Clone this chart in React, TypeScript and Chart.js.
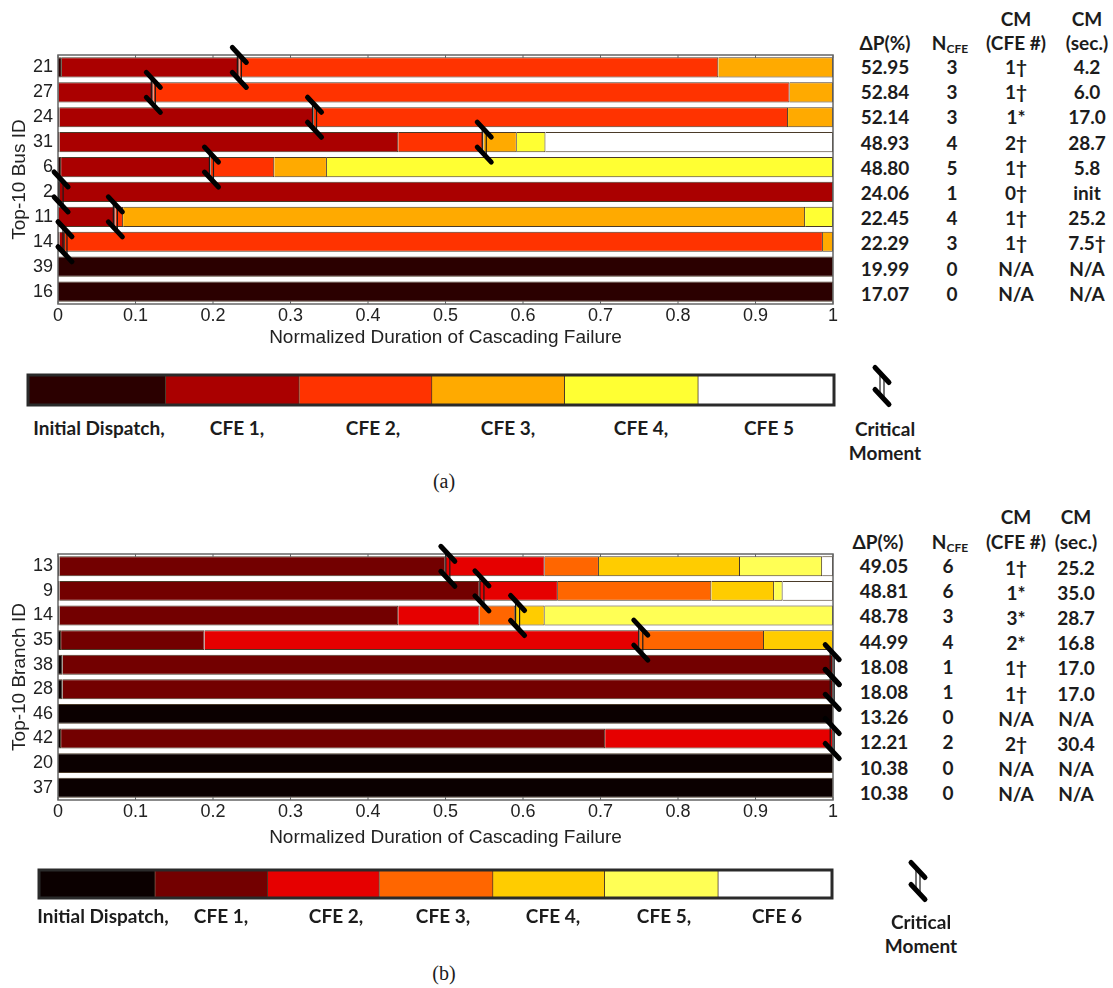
import React, { useEffect, useRef } from "react";
import { Chart, registerables } from "chart.js";

Chart.register(...registerables);

const busIds = ["21", "27", "24", "31", "6", "2", "11", "14", "39", "16"];
const busInit = [0.005, 0.001, 0.002, 0.002, 0.004, 0.002, 0.001, 0.002, 1, 1];
const busCfe1 = [0.229, 0.122, 0.328, 0.437, 0.193, 0.998, 0.073, 0.007, 0, 0];
const busCfe2 = [0.618, 0.821, 0.612, 0.11, 0.082, 0, 0.01, 0.978, 0, 0];
const busCfe3 = [0.148, 0.056, 0.058, 0.043, 0.068, 0, 0.88, 0.013, 0, 0];
const busCfe4 = [0, 0, 0, 0.037, 0.653, 0, 0.036, 0, 0, 0];
const busCfe5 = [0, 0, 0, 0.371, 0, 0, 0, 0, 0, 0];
const busCritical = [0.234, 0.123, 0.331, 0.55, 0.198, 0.004, 0.074, 0.009, null, null];
const busDeltaP = ["52.95", "52.84", "52.14", "48.93", "48.80", "24.06", "22.45", "22.29", "19.99", "17.07"];
const busNcfe = ["3", "3", "3", "4", "5", "1", "4", "3", "0", "0"];
const busCmCfe = ["1†", "1†", "1*", "2†", "1†", "0†", "1†", "1†", "N/A", "N/A"];
const busCmSec = ["4.2", "6.0", "17.0", "28.7", "5.8", "init", "25.2", "7.5†", "N/A", "N/A"];
const busColors = ["#2b0000", "#aa0000", "#ff3300", "#ffaa00", "#ffff33", "#ffffff"];
const busLegendLabels = ["Initial Dispatch,", "CFE 1,", "CFE 2,", "CFE 3,", "CFE 4,", "CFE 5"];
const busLegendWeights = [138, 134, 133, 133, 134, 136];

const branchIds = ["13", "9", "14", "35", "38", "28", "46", "42", "20", "37"];
const branchInit = [0.002, 0.002, 0.002, 0.004, 0.006, 0.006, 1, 0.004, 1, 1];
const branchCfe1 = [0.498, 0.542, 0.437, 0.185, 0.994, 0.994, 0, 0.702, 0, 0];
const branchCfe2 = [0.128, 0.101, 0.105, 0.561, 0, 0, 0, 0.294, 0, 0];
const branchCfe3 = [0.07, 0.198, 0.046, 0.161, 0, 0, 0, 0, 0, 0];
const branchCfe4 = [0.182, 0.081, 0.038, 0.089, 0, 0, 0, 0, 0, 0];
const branchCfe5 = [0.106, 0.011, 0.372, 0, 0, 0, 0, 0, 0, 0];
const branchCfe6 = [0.014, 0.065, 0, 0, 0, 0, 0, 0, 0, 0];
const branchCritical = [0.503, 0.547, 0.593, 0.752, 0.999, 0.999, null, 0.999, null, null];
const branchDeltaP = ["49.05", "48.81", "48.78", "44.99", "18.08", "18.08", "13.26", "12.21", "10.38", "10.38"];
const branchNcfe = ["6", "6", "3", "4", "1", "1", "0", "2", "0", "0"];
const branchCmCfe = ["1†", "1*", "3*", "2*", "1†", "1†", "N/A", "2†", "N/A", "N/A"];
const branchCmSec = ["25.2", "35.0", "28.7", "16.8", "17.0", "17.0", "N/A", "30.4", "N/A", "N/A"];
const branchColors = ["#0b0000", "#730000", "#e60000", "#ff6600", "#ffcc00", "#ffff55", "#ffffff"];
const branchLegendLabels = ["Initial Dispatch,", "CFE 1,", "CFE 2,", "CFE 3,", "CFE 4,", "CFE 5,", "CFE 6"];
const branchLegendWeights = [116, 112.5, 111.5, 113.5, 111.5, 113.5, 113.5];

const xTitle = "Normalized Duration of Cascading Failure";
const SANS = '"Liberation Sans", Arial, sans-serif';
const BOLD = 'Lato, "Noto Sans", sans-serif';

function drawMarker(ctx: CanvasRenderingContext2D, cx: number, topY: number, bottomY: number) {
  ctx.save();
  ctx.strokeStyle = "#1a1a1a";
  ctx.lineWidth = 1.2;
  for (const dx of [-2, 2]) {
    ctx.beginPath();
    ctx.moveTo(cx + dx, topY);
    ctx.lineTo(cx + dx, bottomY);
    ctx.stroke();
  }
  ctx.strokeStyle = "#000";
  ctx.lineWidth = 5;
  ctx.lineCap = "round";
  for (const y of [topY, bottomY]) {
    ctx.beginPath();
    ctx.moveTo(cx - 7, y - 7.5);
    ctx.lineTo(cx + 7, y + 7.5);
    ctx.stroke();
  }
  ctx.restore();
}

function PanelChart(props: {
  top: number; height: number; plotTop: number; plotBottom: number;
  ids: string[]; series: number[][]; colors: string[]; critical: (number | null)[]; yTitle: string;
}) {
  const { top, height, plotTop, plotBottom, ids, series, colors, critical, yTitle } = props;
  const ref = useRef<HTMLCanvasElement>(null);
  useEffect(() => {
    const frame = {
      id: "frame",
      afterDatasetsDraw(chart: any) {
        const { ctx, chartArea: a, scales } = chart;
        ctx.save();
        ctx.strokeStyle = "#666";
        ctx.lineWidth = 1.5;
        ctx.strokeRect(a.left, a.top, a.right - a.left, a.bottom - a.top);
        ctx.lineWidth = 1;
        for (const t of scales.x.ticks) {
          const x = scales.x.getPixelForValue(t.value);
          ctx.beginPath();
          ctx.moveTo(x, a.top);
          ctx.lineTo(x, a.top + 3);
          ctx.moveTo(x, a.bottom);
          ctx.lineTo(x, a.bottom - 3);
          ctx.stroke();
        }
        ctx.restore();
        critical.forEach((v, i) => {
          if (v === null) return;
          const cy = scales.y.getPixelForValue(i);
          drawMarker(ctx, scales.x.getPixelForValue(v), cy - 12.5, cy + 12.5);
        });
      },
    };
    const chart = new Chart(ref.current!, {
      type: "bar",
      data: {
        labels: ids,
        datasets: series.map((data, i) => ({
          label: i === 0 ? "Initial Dispatch" : `CFE ${i}`,
          data: data.map((v) => (v === 0 ? null : v)),
          backgroundColor: colors[i],
          borderColor: "#4a3a28",
          borderWidth: 1,
          barPercentage: 0.81,
          categoryPercentage: 1,
        })),
      },
      options: {
        indexAxis: "y",
        responsive: false,
        animation: false,
        layout: { padding: { top: plotTop - top, right: 17, left: 0, bottom: 0 } },
        plugins: { legend: { display: false }, tooltip: { enabled: false } },
        scales: {
          x: {
            type: "linear", stacked: true, min: 0, max: 1,
            grid: { display: false, drawTicks: false }, border: { display: false },
            ticks: {
              stepSize: 0.1, color: "#222", maxRotation: 0, padding: 1,
              font: { family: SANS, size: 18 },
              callback: (v: any) => String(Math.round(Number(v) * 10) / 10),
            },
            title: { display: true, text: xTitle, color: "#222", padding: { top: -2, bottom: 1 }, font: { family: SANS, size: 19 } },
            afterFit: (s: any) => { s.height = top + height - plotBottom; },
          },
          y: {
            type: "category", stacked: true,
            grid: { display: false, drawTicks: false }, border: { display: false },
            ticks: { color: "#222", padding: 5, autoSkip: false, font: { family: SANS, size: 18 } },
            title: { display: true, text: yTitle, color: "#222", padding: { top: 8, bottom: 0 }, font: { family: SANS, size: 19 } },
            afterFit: (s: any) => { s.width = 58; },
          },
        },
      },
      plugins: [frame],
    } as any);
    return () => chart.destroy();
  }, []);
  return <canvas ref={ref} width={850} height={height} style={{ position: "absolute", left: 0, top }} />;
}

function LegendBar(props: {
  top: number; height: number; left: number; right: number; barTop: number; barBottom: number;
  weights: number[]; colors: string[]; labels: string[]; markerX: number; markerTop: number; markerBottom: number;
}) {
  const { top, height, left, right, barTop, barBottom, weights, colors, labels, markerX, markerTop, markerBottom } = props;
  const ref = useRef<HTMLCanvasElement>(null);
  useEffect(() => {
    const deco = {
      id: "deco",
      afterDatasetsDraw(chart: any) {
        const { ctx, chartArea: a } = chart;
        ctx.save();
        ctx.strokeStyle = "#2a2a2a";
        ctx.lineWidth = 3;
        ctx.strokeRect(a.left, a.top, a.right - a.left, a.bottom - a.top);
        ctx.restore();
        drawMarker(ctx, markerX, markerTop - top, markerBottom - top);
      },
    };
    const chart = new Chart(ref.current!, {
      type: "bar",
      data: {
        labels: ["legend"],
        datasets: weights.map((w, i) => ({
          label: labels[i], data: [w], backgroundColor: colors[i],
          borderColor: "#4a3a28", borderWidth: 1,
          barPercentage: 1, categoryPercentage: 1,
        })),
      },
      options: {
        indexAxis: "y",
        responsive: false,
        animation: false,
        layout: { padding: { left, right: 950 - right, top: barTop - top, bottom: top + height - barBottom } },
        plugins: { legend: { display: false }, tooltip: { enabled: false } },
        scales: {
          x: { display: false, stacked: true, min: 0, max: weights.reduce((a, b) => a + b, 0) },
          y: { display: false, stacked: true },
        },
      },
      plugins: [deco],
    } as any);
    return () => chart.destroy();
  }, []);
  return <canvas ref={ref} width={950} height={height} style={{ position: "absolute", left: 0, top }} />;
}

function Label(props: { x: number; y: number; children: React.ReactNode; size?: number; family?: string; weight?: number }) {
  const { x, y, children, size = 19, family = BOLD, weight = 700 } = props;
  return (
    <div style={{
      position: "absolute", left: x, top: y, transform: "translate(-50%,-50%)", whiteSpace: "nowrap",
      font: `${weight} ${size}px ${family}`, color: "#1c1c1c", lineHeight: 1,
    }}>{children}</div>
  );
}

const Ncfe = () => <span>N<span style={{ fontSize: 12, position: "relative", top: 3 }}>CFE</span></span>;

function Table(props: {
  firstY: number; pitch: number; xs: number[]; headerXs: number[]; headerY: number; capY: number; offset: number;
  deltaP: string[]; ncfe: string[]; cmCfe: string[]; cmSec: string[];
}) {
  const { firstY, pitch, xs, headerXs, headerY, capY, offset, deltaP, ncfe, cmCfe, cmSec } = props;
  return (
    <>
      <Label x={headerXs[2]} y={capY}>CM</Label>
      <Label x={headerXs[3]} y={capY}>CM</Label>
      <Label x={headerXs[0]} y={headerY}>ΔP(%)</Label>
      <Label x={headerXs[1]} y={headerY}><Ncfe /></Label>
      <Label x={headerXs[2]} y={headerY}>(CFE #)</Label>
      <Label x={headerXs[3]} y={headerY}>(sec.)</Label>
      {deltaP.map((d, i) => {
        const y = firstY + pitch * i;
        return (
          <React.Fragment key={i}>
            <Label x={xs[0]} y={y}>{d}</Label>
            <Label x={xs[1]} y={y}>{ncfe[i]}</Label>
            <Label x={xs[2]} y={y + offset}>{cmCfe[i]}</Label>
            <Label x={xs[3]} y={y + offset}>{cmSec[i]}</Label>
          </React.Fragment>
        );
      })}
    </>
  );
}

const busLabelXs = [99, 237, 373, 508, 641, 769];
const branchLabelXs = [103, 221, 336, 443, 553, 664, 777];

export default function App() {
  return (
    <div style={{ position: "absolute", left: 0, top: 0, width: 1113, height: 988, overflow: "hidden", background: "#fff" }}>
      <PanelChart top={25} height={325} plotTop={55} plotBottom={304} ids={busIds}
        series={[busInit, busCfe1, busCfe2, busCfe3, busCfe4, busCfe5]} colors={busColors}
        critical={busCritical} yTitle="Top-10 Bus ID" />
      <LegendBar top={355} height={60} left={28} right={834} barTop={375} barBottom={405}
        weights={busLegendWeights} colors={busColors} labels={busLegendLabels}
        markerX={882} markerTop={375} markerBottom={397} />
      {busLegendLabels.map((t, i) => <Label key={t} x={busLabelXs[i]} y={427}>{t}</Label>)}
      <Label x={885} y={428}>Critical</Label>
      <Label x={885} y={452}>Moment</Label>
      <Label x={444} y={481} size={20} weight={400} family='"Liberation Serif", serif'>(a)</Label>
      <Table firstY={66} pitch={25.2} xs={[885, 952, 1016, 1087]} headerXs={[885, 950, 1016, 1087]} headerY={42} capY={18} offset={0}
        deltaP={busDeltaP} ncfe={busNcfe} cmCfe={busCmCfe} cmSec={busCmSec} />

      <PanelChart top={525} height={325} plotTop={554} plotBottom={800} ids={branchIds}
        series={[branchInit, branchCfe1, branchCfe2, branchCfe3, branchCfe4, branchCfe5, branchCfe6]} colors={branchColors}
        critical={branchCritical} yTitle="Top-10 Branch ID" />
      <LegendBar top={850} height={60} left={39} right={832} barTop={870} barBottom={898}
        weights={branchLegendWeights} colors={branchColors} labels={branchLegendLabels}
        markerX={918} markerTop={870} markerBottom={892} />
      {branchLegendLabels.map((t, i) => <Label key={t} x={branchLabelXs[i]} y={915}>{t}</Label>)}
      <Label x={921} y={921}>Critical</Label>
      <Label x={921} y={945}>Moment</Label>
      <Label x={444} y={973} size={20} weight={400} family='"Liberation Serif", serif'>(b)</Label>
      <Table firstY={565} pitch={25.2} xs={[884, 948, 1016, 1076]} headerXs={[878, 950, 1016, 1076]} headerY={541} capY={516} offset={1.5}
        deltaP={branchDeltaP} ncfe={branchNcfe} cmCfe={branchCmCfe} cmSec={branchCmSec} />
    </div>
  );
}
